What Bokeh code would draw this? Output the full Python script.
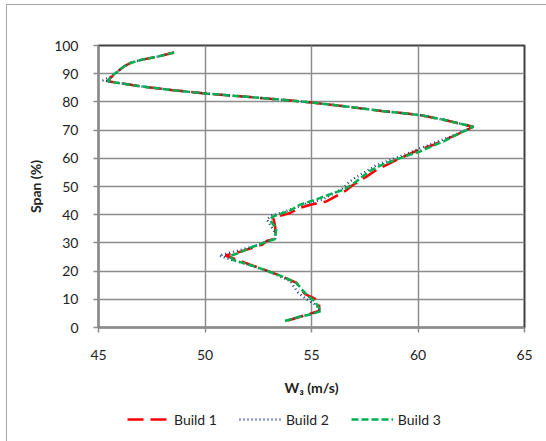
from bokeh.plotting import figure
from bokeh.models import Legend, LegendItem, FixedTicker, Range1d
from bokeh.layouts import column
from bokeh.embed import file_html
from bokeh.resources import INLINE

# Build 1 (red, long dash)
b1_w = [53.9, 54.85, 55.36, 55.36, 55.16, 54.7, 54.46, 54.3, 53.5, 52.74, 51.9, 51.4, 50.95,
        51.5, 52.7, 52.9, 53.3, 53.3, 53.28, 53.2, 54.0, 54.45, 55.0, 55.7, 56.33, 56.6, 56.9,
        57.58, 58.05, 59.0, 60.0, 60.7, 61.77, 62.6, 61.9, 61.3, 60.13, 58.3, 56.7, 55.0, 53.4,
        51.8, 50.0, 48.55, 47.0, 45.44, 45.5, 45.65, 45.9, 46.2, 46.5, 47.0, 47.8, 48.55]
b1_span = [2.5, 4.7, 5.9, 9.3, 10.2, 11.8, 14.1, 15.8, 18.5, 20.6, 22.9, 24.3, 25.5,
           26.5, 29.4, 30.7, 31.5, 35.3, 36.5, 38.9, 40.6, 42.4, 43.6, 44.7, 47.3, 48.5, 50.3,
           53.5, 55.9, 59.4, 62.9, 64.7, 68.2, 71.2, 72.4, 73.5, 75.3, 76.8, 78.3, 79.8, 80.9,
           81.9, 83.0, 84.1, 85.5, 87.3, 88.1, 89.1, 90.8, 92.6, 93.8, 94.9, 96.1, 97.5]

# Build 2 (blue, dotted)
b2_w = [53.8, 54.9, 55.4, 55.2, 54.77, 54.38, 54.15, 54.0, 53.4, 52.7, 51.95, 51.2, 50.67,
        51.0, 52.6, 52.9, 53.3, 53.3, 53.05, 52.9, 53.1, 53.7, 54.77, 55.55, 56.48, 56.8,
        57.27, 58.05, 59.14, 60.1, 60.7, 61.7, 62.6, 61.9, 61.3, 60.13, 58.3, 56.7, 55.0, 53.4,
        51.8, 50.0, 48.55, 47.0, 45.2, 45.6, 45.9, 46.2, 46.5, 47.0, 47.8, 48.55]
b2_span = [2.5, 4.7, 5.9, 8.0, 10.0, 12.3, 14.7, 16.5, 18.5, 20.6, 22.4, 24.1, 25.5,
           26.2, 29.4, 30.7, 31.5, 33.5, 36.5, 38.3, 39.6, 41.0, 43.9, 45.5, 49.4, 51.8,
           54.1, 57.6, 60.6, 63.5, 65.3, 68.2, 71.2, 72.4, 73.5, 75.3, 76.8, 78.3, 79.8, 80.9,
           81.9, 83.0, 84.1, 85.5, 87.6, 89.1, 90.8, 92.6, 93.8, 94.9, 96.1, 97.5]

# Build 3 (green, short dash)
b3_w = [53.76, 54.46, 55.0, 55.46, 55.3, 55.16, 54.85, 54.54, 54.3, 54.0, 53.5, 52.74, 51.8,
        51.33, 51.15, 51.64, 52.1, 52.74, 53.29, 53.35, 53.2, 53.05, 53.2, 54.0, 54.45, 55.39,
        56.0, 56.5, 57.0, 57.7, 58.28, 59.14, 60.08, 61.17, 61.77, 62.6, 61.9, 61.3, 60.13,
        58.3, 56.7, 55.0, 53.4, 51.8, 50.0, 48.55, 47.0, 45.44, 45.6, 45.9, 46.2, 46.5, 47.0,
        47.8, 48.55]
b3_span = [2.3, 3.9, 4.7, 5.9, 7.5, 9.3, 11.1, 13.5, 15.8, 16.8, 18.5, 20.6, 22.9,
           23.9, 25.3, 26.6, 28.2, 30.0, 31.4, 35.3, 36.5, 38.3, 39.4, 41.5, 43.5, 45.9,
           47.6, 48.8, 51.2, 55.3, 57.6, 60.0, 62.4, 65.9, 68.2, 71.2, 72.4, 73.5, 75.3,
           76.8, 78.3, 79.8, 80.9, 81.9, 83.0, 84.1, 85.5, 87.3, 89.1, 90.8, 92.6, 93.8, 94.9,
           96.1, 97.5]

x_ticks = [45, 50, 55, 60, 65]
y_ticks = [0, 10, 20, 30, 40, 50, 60, 70, 80, 90, 100]
series_names = ["Build 1", "Build 2", "Build 3"]

FONT = "Lato"
RED, BLUE, GREEN = "#ff0000", "#1f3f80", "#00b050"
STYLES = [dict(line_color=RED, line_width=2.5, line_dash="16 7"),
          dict(line_color=BLUE, line_width=2.4, line_dash="1 3"),
          dict(line_color=GREEN, line_width=2.5, line_dash="7 3")]

p = figure(width=539, height=393, output_backend="svg", toolbar_location=None,
           x_range=Range1d(45, 65), y_range=Range1d(0, 100),
           min_border_left=91, min_border_right=22, min_border_top=40, min_border_bottom=70)

p.background_fill_color = "white"
p.border_fill_color = "white"
p.outline_line_color = "#404040"
p.outline_line_width = 2

p.xaxis.ticker = FixedTicker(ticks=x_ticks)
p.yaxis.ticker = FixedTicker(ticks=y_ticks)
p.xgrid.ticker = FixedTicker(ticks=x_ticks)
p.ygrid.ticker = FixedTicker(ticks=y_ticks)
p.grid.grid_line_color = "#8c8c8c"
p.grid.grid_line_width = 1.5

for ax in (p.xaxis, p.yaxis):
    ax.axis_line_color = "#8c8c8c"
    ax.axis_line_width = 1.5
    ax.major_tick_line_color = "#8c8c8c"
    ax.major_tick_line_width = 1.5
    ax.major_tick_out = 5
    ax.major_tick_in = 0
    ax.minor_tick_line_color = None
    ax.major_label_text_font = FONT
    ax.major_label_text_font_size = "14px"
    ax.major_label_text_color = "#222222"
    ax.axis_label_text_font = FONT
    ax.axis_label_text_font_size = "14px"
    ax.axis_label_text_font_style = "bold"
    ax.axis_label_text_color = "#222222"

p.xaxis.axis_label = "W₃ (m/s)"
p.yaxis.axis_label = "Span (%)"
p.xaxis.major_label_standoff = 17
p.xaxis.axis_label_standoff = 16
p.yaxis.major_label_standoff = 15
p.yaxis.axis_label_standoff = 7

r1 = p.line(b1_w, b1_span, **STYLES[0])
r2 = p.line(b2_w, b2_span, **STYLES[1])
r3 = p.line(b3_w, b3_span, **STYLES[2])

# legend strip below the chart (no axes, frame fills the strip)
pl = figure(width=539, height=43, output_backend="svg", toolbar_location=None,
            x_range=Range1d(0, 1), y_range=Range1d(0, 1),
            x_axis_type=None, y_axis_type=None,
            min_border_left=0, min_border_right=0, min_border_top=0, min_border_bottom=0)
pl.grid.visible = False
pl.outline_line_color = None
pl.background_fill_color = "white"
pl.border_fill_color = "white"
lr = [pl.line([-5, -4], [-5, -4], **s) for s in STYLES]

legend = Legend(items=[LegendItem(label=n, renderers=[r]) for n, r in zip(series_names, lr)],
                orientation="horizontal", location=(29, 13),
                label_text_font=FONT, label_text_font_size="14px", label_text_color="#222222",
                glyph_width=42, glyph_height=18, spacing=22, border_line_color=None,
                background_fill_alpha=0, margin=0, padding=4, label_standoff=5)
pl.add_layout(legend, "center")

layout = column(p, pl, spacing=0, margin=(4, 0, 0, 6),
                styles={"border-top": "1px solid #a6a6a6", "border-left": "1px solid #a6a6a6"})

open("out.html", "w").write(file_html(layout, INLINE))
